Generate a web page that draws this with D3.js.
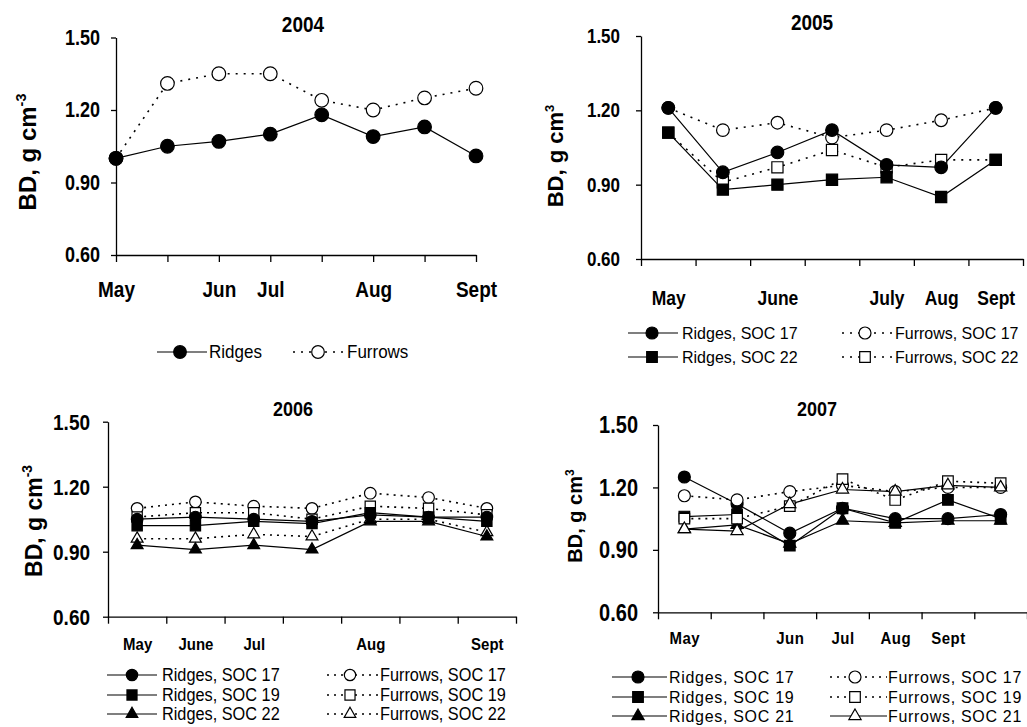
<!DOCTYPE html>
<html><head><meta charset="utf-8">
<script src="https://cdn.jsdelivr.net/npm/d3@7"></script>
<style>
html,body{margin:0;padding:0;background:#fff;}
svg{display:block;font-family:"Liberation Sans",Arial,sans-serif;}
</style></head>
<body>
<svg id="chart" width="1027" height="727"></svg>
<script>
// ---------------- DATA ----------------
const yTicks = [0.60, 0.90, 1.20, 1.50];

const labels2004 = ["May", "", "Jun", "Jul", "", "Aug", "", "Sept"];
const ridges2004  = [1.00, 1.05, 1.07, 1.10, 1.18, 1.09, 1.13, 1.01];
const furrows2004 = [1.00, 1.31, 1.35, 1.35, 1.24, 1.20, 1.25, 1.29];

const labels2005 = ["May", "", "June", "", "July", "Aug", "Sept"];
const ridges17_2005  = [1.21, 0.95, 1.03, 1.12, 0.98, 0.97, 1.21];
const ridges22_2005  = [1.11, 0.88, 0.90, 0.92, 0.93, 0.85, 1.00];
const furrows17_2005 = [1.21, 1.12, 1.15, 1.09, 1.12, 1.16, 1.21];
const furrows22_2005 = [1.11, 0.91, 0.97, 1.04, 0.97, 1.00, 1.00];

const labels2006 = ["May", "June", "Jul", "", "Aug", "", "Sept"];
const ridges17_2006  = [1.05, 1.06, 1.05, 1.04, 1.07, 1.06, 1.06];
const ridges19_2006  = [1.02, 1.02, 1.04, 1.03, 1.08, 1.06, 1.04];
const ridges22_2006  = [0.93, 0.91, 0.93, 0.91, 1.04, 1.04, 0.97];
const furrows17_2006 = [1.10, 1.13, 1.11, 1.10, 1.17, 1.15, 1.10];
const furrows19_2006 = [1.06, 1.08, 1.08, 1.05, 1.11, 1.10, 1.07];
const furrows22_2006 = [0.96, 0.96, 0.98, 0.97, 1.05, 1.05, 0.99];

const labels2007 = ["May", "", "Jun", "Jul", "Aug", "Sept", ""];
const ridges17_2007  = [1.25, 1.12, 0.98, 1.10, 1.05, 1.05, 1.07];
const ridges19_2007  = [1.06, 1.07, 0.92, 1.10, 1.03, 1.14, 1.05];
const ridges21_2007  = [1.00, 1.02, 0.93, 1.04, 1.03, 1.04, 1.04];
const furrows17_2007 = [1.16, 1.14, 1.18, 1.21, 1.18, 1.20, 1.20];
const furrows19_2007 = [1.05, 1.05, 1.11, 1.24, 1.14, 1.23, 1.22];
const furrows21_2007 = [1.00, 0.99, 1.12, 1.19, 1.18, 1.21, 1.20];

// ---------------- DRAWING ----------------
const svg = d3.select("#chart");

const symbolTypes = {circle: d3.symbolCircle, square: d3.symbolSquare, triangle: d3.symbolTriangle};
const symbolSizes = {circle: 125, square: 125, triangle: 72};

// stretch text vertically about its own vertical centre
function stretch(sel, k) {
  sel.each(function () {
    const b = this.getBBox();
    const cy = b.y + b.height / 2;
    const prev = this.getAttribute("transform") || "";
    this.setAttribute("transform", `${prev} translate(0,${cy * (1 - k)}) scale(1,${k})`);
  });
}

function drawMarker(g, x, y, s, scale) {
  const k = scale || 1;
  g.append("path")
    .attr("d", d3.symbol().type(symbolTypes[s.marker]).size(symbolSizes[s.marker] * k * k)())
    .attr("transform", `translate(${x},${y})`)
    .attr("fill", s.filled ? "#000" : "#fff")
    .attr("stroke", "#000")
    .attr("stroke-width", 1.2);
}

function panel(cfg) {
  const g = svg.append("g");
  const n = cfg.labels.length;
  const x = cfg.between
    ? d3.scaleLinear().domain([-0.5, n - 0.5]).range(cfg.xRange)
    : d3.scaleLinear().domain([0, n - 1]).range(cfg.xRange);
  const y = d3.scaleLinear().domain([0.6, 1.5]).range(cfg.yRange);
  const idx = d3.range(n);
  const tickPos = cfg.between ? d3.range(n + 1).map(i => i - 0.5) : idx;

  // title
  const t = g.append("text").attr("x", cfg.title.x).attr("y", cfg.title.y)
    .attr("text-anchor", "middle").attr("font-weight", "bold")
    .attr("font-size", cfg.title.size).text(cfg.title.text);
  stretch(t, 1.12);

  // y axis
  const ya = g.append("g").attr("transform", `translate(${cfg.xRange[0]},0)`)
    .call(d3.axisLeft(y).tickValues(yTicks).tickFormat(d3.format(".2f"))
      .tickSize(5).tickSizeOuter(0).tickPadding(cfg.yTickPad));
  ya.selectAll("text").attr("font-size", cfg.yTickSize).attr("font-weight", "bold")
    .attr("fill", "#000").attr("font-family", "Liberation Sans, Arial, sans-serif");
  ya.selectAll("line,path").attr("stroke", "#000").attr("stroke-width", 1.3);
  stretch(ya.selectAll("text"), 1.2);

  // x axis ticks
  const xa = g.append("g").attr("transform", `translate(0,${cfg.yRange[0]})`)
    .call(d3.axisBottom(x).tickValues(tickPos).tickFormat("").tickSize(7).tickSizeOuter(0));
  xa.selectAll("line,path").attr("stroke", "#000").attr("stroke-width", 1.3);

  // x labels
  const xl = g.append("g").attr("transform", `translate(0,${cfg.yRange[0]})`)
    .call(d3.axisBottom(x).tickValues(idx).tickFormat(i => cfg.labels[i]).tickSize(0).tickPadding(cfg.xLabelPad));
  xl.select(".domain").remove();
  xl.selectAll("text").attr("font-size", cfg.xLabelSize).attr("font-weight", cfg.xLabelWeight || "bold")
    .attr("fill", "#000").attr("font-family", "Liberation Sans, Arial, sans-serif")
    .attr("letter-spacing", cfg.xLabelSpacing || 0);
  stretch(xl.selectAll("text"), 1.12);

  // y label
  const yl = g.append("text")
    .attr("transform", `translate(${cfg.ylab.x},${cfg.ylab.y}) rotate(-90)`)
    .attr("text-anchor", "middle").attr("font-weight", "bold").attr("font-size", cfg.ylab.size);
  yl.append("tspan").text("BD, g cm");
  yl.append("tspan").attr("dy", -cfg.ylab.size * 0.42).attr("font-size", cfg.ylab.size * 0.6).text(cfg.ylab.sup);

  // lines
  const line = d3.line().x((d, i) => x(i)).y(d => y(d));
  cfg.series.forEach(s => {
    g.append("path").datum(s.values).attr("d", line)
      .attr("fill", "none").attr("stroke", "#000")
      .attr("stroke-width", s.dashed ? 1.6 : 1.2)
      .attr("stroke-dasharray", s.dashed ? cfg.dash : null);
  });
  // markers (drawn in order given)
  cfg.series.forEach(s => {
    s.values.forEach((v, i) => drawMarker(g, x(i), y(v), s, cfg.markerScale));
  });

  // legend
  cfg.legend.forEach(it => {
    const s = it.series;
    g.append("line").attr("x1", it.x1).attr("x2", it.x2).attr("y1", it.y).attr("y2", it.y)
      .attr("stroke", "#000").attr("stroke-width", s.dashed ? 1.6 : 1.2)
      .attr("stroke-dasharray", s.dashed ? cfg.dash : null);
    drawMarker(g, it.mx, it.y, s, cfg.legendMarkerScale);
    const lt = g.append("text").attr("x", it.tx).attr("y", it.y + cfg.legendTextDy)
      .attr("font-size", cfg.legendSize).attr("letter-spacing", cfg.legendSpacing || 0)
      .text(it.label);
    stretch(lt, 1.08);
  });
}

// ---- 2004 ----
const s04R = {values: ridges2004, marker: "circle", filled: true, dashed: false};
const s04F = {values: furrows2004, marker: "circle", filled: false, dashed: true};
panel({
  labels: labels2004, between: false, xRange: [116, 476], yRange: [255, 37.5],
  title: {text: "2004", x: 303, y: 31, size: 19},
  yTickSize: 18, yTickPad: 11, xLabelSize: 19, xLabelPad: 28,
  ylab: {x: 36, y: 152, size: 24, sup: "-3"},
  dash: "2,6", markerScale: 1.08, legendMarkerScale: 1.0, legendSize: 17, legendTextDy: 6,
  series: [s04F, s04R],
  legend: [
    {series: s04R, label: "Ridges", x1: 157, x2: 207, mx: 180, tx: 209, y: 352},
    {series: s04F, label: "Furrows", x1: 293, x2: 343, mx: 318, tx: 347, y: 352}
  ]
});

// ---- 2005 ----
const s05R17 = {values: ridges17_2005, marker: "circle", filled: true, dashed: false};
const s05R22 = {values: ridges22_2005, marker: "square", filled: true, dashed: false};
const s05F17 = {values: furrows17_2005, marker: "circle", filled: false, dashed: true};
const s05F22 = {values: furrows22_2005, marker: "square", filled: false, dashed: true};
panel({
  labels: labels2005, between: true, xRange: [641, 1023], yRange: [259, 36],
  title: {text: "2005", x: 812, y: 29, size: 19},
  yTickSize: 17, yTickPad: 16, xLabelSize: 17.5, xLabelPad: 33,
  ylab: {x: 563, y: 156, size: 22, sup: "3"},
  dash: "2,6", markerScale: 1.0, legendMarkerScale: 0.95, legendSize: 16, legendTextDy: 6,
  series: [s05F17, s05F22, s05R17, s05R22],
  legend: [
    {series: s05R17, label: "Ridges, SOC 17", x1: 628, x2: 678, mx: 652, tx: 682, y: 333},
    {series: s05R22, label: "Ridges, SOC 22", x1: 628, x2: 678, mx: 652, tx: 682, y: 357},
    {series: s05F17, label: "Furrows, SOC 17", x1: 842, x2: 893, mx: 865, tx: 895, y: 333},
    {series: s05F22, label: "Furrows, SOC 22", x1: 842, x2: 893, mx: 865, tx: 895, y: 357}
  ]
});

// ---- 2006 ----
const s06R17 = {values: ridges17_2006, marker: "circle", filled: true, dashed: false};
const s06R19 = {values: ridges19_2006, marker: "square", filled: true, dashed: false};
const s06R22 = {values: ridges22_2006, marker: "triangle", filled: true, dashed: false};
const s06F17 = {values: furrows17_2006, marker: "circle", filled: false, dashed: true};
const s06F19 = {values: furrows19_2006, marker: "square", filled: false, dashed: true};
const s06F22 = {values: furrows22_2006, marker: "triangle", filled: false, dashed: true};
panel({
  labels: labels2006, between: true, xRange: [108, 516], yRange: [616.7, 421.7],
  title: {text: "2006", x: 293, y: 415, size: 18},
  yTickSize: 19, yTickPad: 13, xLabelSize: 15, xLabelPad: 22,
  ylab: {x: 42, y: 521, size: 23, sup: "-3"},
  dash: "2,5", markerScale: 0.92, legendMarkerScale: 0.9, legendSize: 16.3, legendTextDy: 6,
  series: [s06F17, s06F19, s06F22, s06R17, s06R19, s06R22],
  legend: [
    {series: s06R17, label: "Ridges, SOC 17", x1: 107, x2: 157, mx: 132, tx: 162, y: 675},
    {series: s06R19, label: "Ridges, SOC 19", x1: 107, x2: 157, mx: 132, tx: 162, y: 695},
    {series: s06R22, label: "Ridges, SOC 22", x1: 107, x2: 157, mx: 132, tx: 162, y: 714},
    {series: s06F17, label: "Furrows, SOC 17", x1: 327, x2: 378, mx: 350, tx: 380, y: 675},
    {series: s06F19, label: "Furrows, SOC 19", x1: 327, x2: 378, mx: 350, tx: 380, y: 695},
    {series: s06F22, label: "Furrows, SOC 22", x1: 327, x2: 378, mx: 350, tx: 380, y: 714}
  ]
});

// ---- 2007 ----
const s07R17 = {values: ridges17_2007, marker: "circle", filled: true, dashed: false};
const s07R19 = {values: ridges19_2007, marker: "square", filled: true, dashed: false};
const s07R21 = {values: ridges21_2007, marker: "triangle", filled: true, dashed: false};
const s07F17 = {values: furrows17_2007, marker: "circle", filled: false, dashed: true};
const s07F19 = {values: furrows19_2007, marker: "square", filled: false, dashed: true};
const s07F21 = {values: furrows21_2007, marker: "triangle", filled: false, dashed: false};
panel({
  labels: labels2007, between: true, xRange: [658, 1027], yRange: [612.3, 425],
  title: {text: "2007", x: 817, y: 415, size: 18},
  yTickSize: 20, yTickPad: 15, xLabelSize: 15, xLabelPad: 20, xLabelSpacing: 0.5,
  ylab: {x: 582, y: 516, size: 20, sup: "3"},
  dash: "2,5", markerScale: 0.95, legendMarkerScale: 0.95, legendSize: 16, legendTextDy: 6, legendSpacing: 0.7,
  series: [s07R17, s07R19, s07R21, s07F17, s07F19, s07F21],
  legend: [
    {series: s07R17, label: "Ridges, SOC 17", x1: 612, x2: 667, mx: 638, tx: 669, y: 677},
    {series: s07R19, label: "Ridges, SOC 19", x1: 612, x2: 667, mx: 638, tx: 669, y: 697},
    {series: s07R21, label: "Ridges, SOC 21", x1: 612, x2: 667, mx: 638, tx: 669, y: 716},
    {series: s07F17, label: "Furrows, SOC 17", x1: 830, x2: 887, mx: 855, tx: 888, y: 677},
    {series: s07F19, label: "Furrows, SOC 19", x1: 830, x2: 887, mx: 855, tx: 888, y: 697},
    {series: s07F21, label: "Furrows, SOC 21", x1: 830, x2: 887, mx: 855, tx: 888, y: 716}
  ]
});
</script>
</body></html>
